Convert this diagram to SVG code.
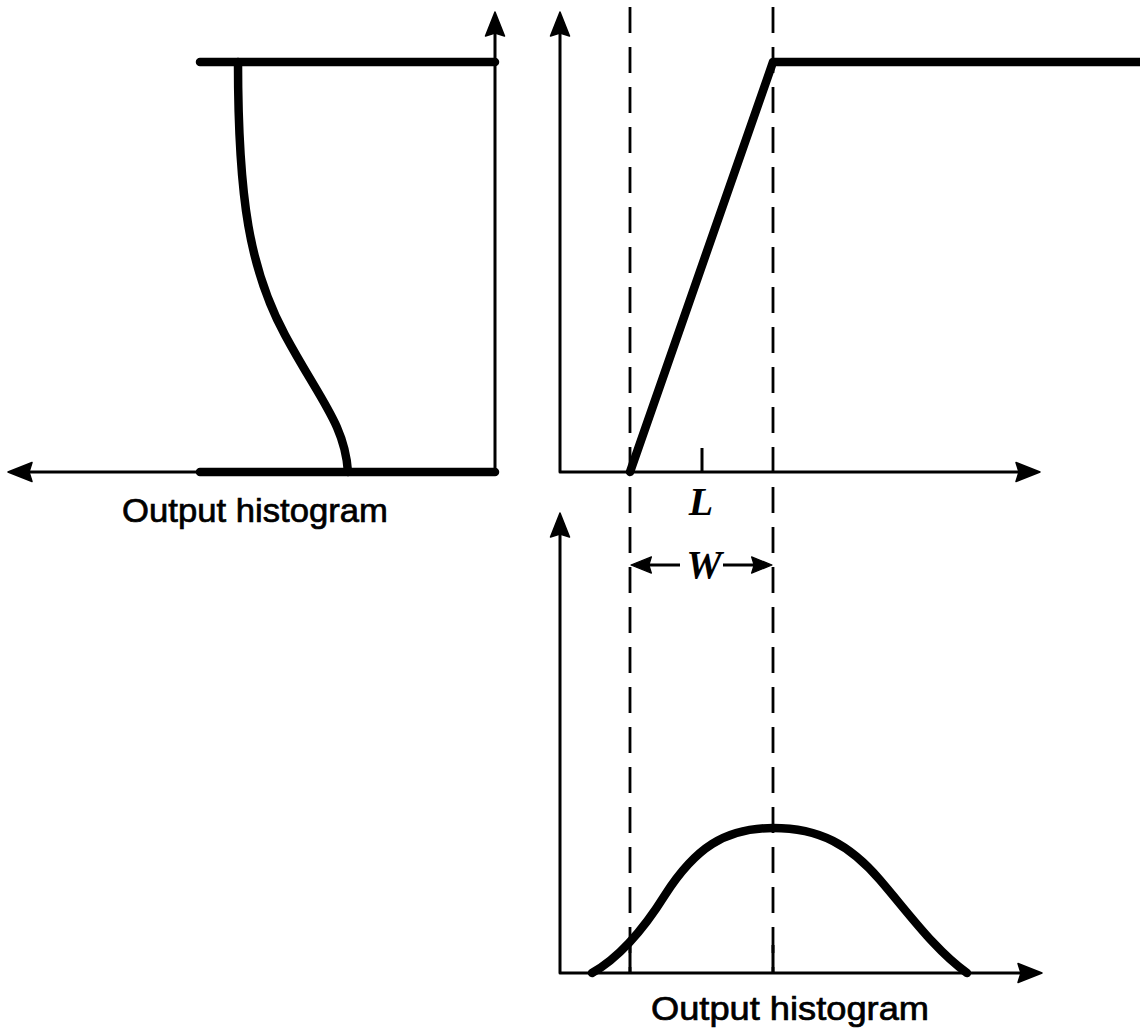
<svg xmlns="http://www.w3.org/2000/svg" width="1140" height="1031" viewBox="0 0 1140 1031">
<defs>
<style>
.axis{fill:none;stroke:#000;stroke-width:3;stroke-linejoin:round}
.thick{fill:none;stroke:#000;stroke-width:8.5;stroke-linecap:round;stroke-linejoin:round}
.dash{fill:none;stroke:#000;stroke-width:2.8;stroke-dasharray:26 14}
.lbl{font-family:"Liberation Sans",Arial,Helvetica,sans-serif;font-size:34px;fill:#000;stroke:#000;stroke-width:0.7}
.sym{font-family:"Liberation Serif","Times New Roman",serif;font-size:40px;font-weight:bold;font-style:italic;fill:#000}
</style>
<path id="arrow" fill="#000" stroke="#000" stroke-width="1.5" stroke-linejoin="round" d="M0,0 L-24,-9.5 L-21,0 L-24,9.5 Z"/>
</defs>
<rect width="1140" height="1031" fill="#fff"/>

<g id="connectors">
<path class="axis" d="M495,472 L20,472"/>
<use href="#arrow" transform="translate(8,472) rotate(180)"/>
<path class="axis" d="M495,472 L495,24"/>
<use href="#arrow" transform="translate(495,12) rotate(-90)"/>
<path class="axis" d="M1028,472 L560,472 L560,24"/>
<use href="#arrow" transform="translate(560,12) rotate(-90)"/>
<use href="#arrow" transform="translate(1040,472)"/>
<path class="axis" d="M560,525 L560,973 L1030,973"/>
<use href="#arrow" transform="translate(560,513) rotate(-90)"/>
<use href="#arrow" transform="translate(1042,973)"/>
<line class="dash" x1="630" y1="7" x2="630" y2="973"/>
<line class="dash" x1="773" y1="7" x2="773" y2="973"/>
<line class="axis" x1="680" y1="565" x2="642" y2="565"/>
<use href="#arrow" transform="translate(631,565) rotate(180) scale(0.85)"/>
<line class="axis" x1="723" y1="565" x2="762" y2="565"/>
<use href="#arrow" transform="translate(772,565) scale(0.85)"/>
</g>

<g id="left-panel">
<line class="thick" x1="200" y1="62" x2="495" y2="62"/>
<line class="thick" x1="200" y1="472" x2="495" y2="472"/>
<path class="thick" d="M238,62 C238,200 250,270 285,335 C320,400 345,425 348,472"/>
<text class="lbl" x="255" y="522" text-anchor="middle" textLength="266" lengthAdjust="spacingAndGlyphs">Output histogram</text>
</g>

<g id="transfer-panel">
<path class="thick" d="M630,472 L773,62 L1140,62"/>
<line class="axis" x1="702" y1="448" x2="702" y2="472"/>
<text class="sym" x="701" y="515" text-anchor="middle">L</text>
<text class="sym" x="704" y="578" text-anchor="middle">W</text>
</g>

<g id="bottom-panel">
<path class="thick" d="M592,973 C615,960 640,935 665,895 C695,848 725,828 773,828 C820,828 850,845 880,880 C910,915 935,950 967,973"/>
<line class="axis" x1="630" y1="945" x2="630" y2="973"/>
<line class="axis" x1="773" y1="945" x2="773" y2="973"/>
<text class="lbl" x="790" y="1020" text-anchor="middle" textLength="278" lengthAdjust="spacingAndGlyphs">Output histogram</text>
</g>
</svg>
